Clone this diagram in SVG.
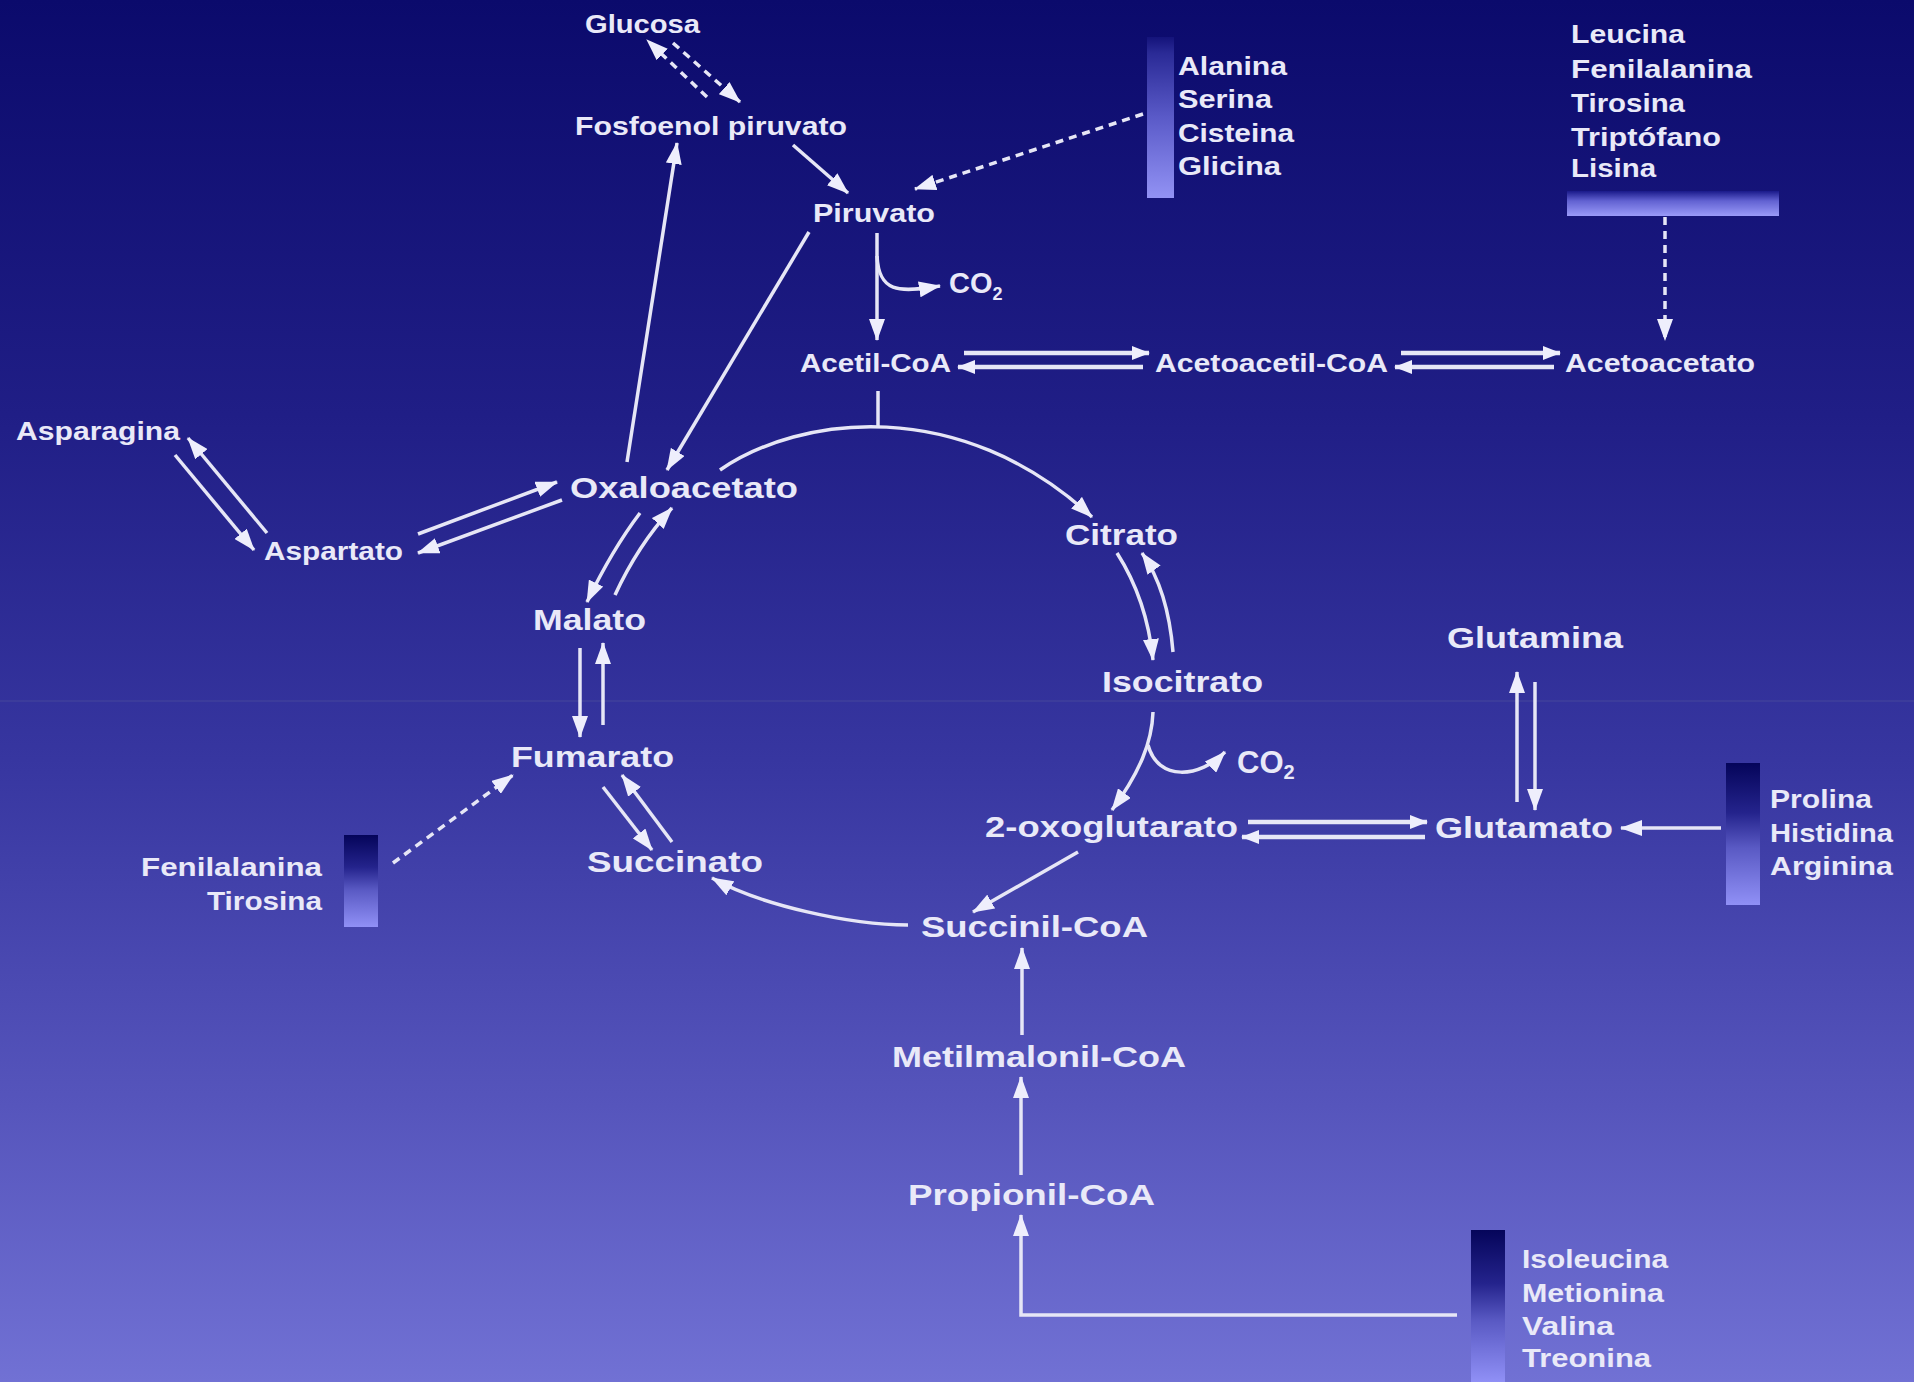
<svg xmlns="http://www.w3.org/2000/svg" width="1914" height="1382" viewBox="0 0 1914 1382">
<defs>
<linearGradient id="bg" x1="0" y1="0" x2="0" y2="1">
<stop offset="0" stop-color="#0b0a6c"/>
<stop offset="0.3" stop-color="#201e86"/>
<stop offset="0.55" stop-color="#3736a0"/>
<stop offset="0.8" stop-color="#5655bc"/>
<stop offset="1" stop-color="#7171d4"/>
</linearGradient>
<linearGradient id="barV" x1="0" y1="0" x2="0" y2="1">
<stop offset="0" stop-color="#05055a"/>
<stop offset="0.35" stop-color="#24238c"/>
<stop offset="0.6" stop-color="#5a5ac4"/>
<stop offset="1" stop-color="#9090f6"/>
</linearGradient>
<linearGradient id="barA" x1="0" y1="0" x2="0" y2="1">
<stop offset="0" stop-color="#14137a"/>
<stop offset="0.1" stop-color="#2a2a96"/>
<stop offset="0.5" stop-color="#5a5ac8"/>
<stop offset="1" stop-color="#9292f4"/>
</linearGradient>
<linearGradient id="barH" x1="0" y1="0" x2="0" y2="1">
<stop offset="0" stop-color="#1a1a8a"/>
<stop offset="0.4" stop-color="#6262d2"/>
<stop offset="1" stop-color="#9a9af8"/>
</linearGradient>
<marker id="ah" markerUnits="userSpaceOnUse" markerWidth="22" markerHeight="16" refX="21" refY="8" orient="auto">
<path d="M0,0 L22,8 L0,16 z" fill="#eeeefc"/>
</marker>
<marker id="ahs" markerUnits="userSpaceOnUse" markerWidth="18" markerHeight="14" refX="17" refY="7" orient="auto">
<path d="M0,0 L18,7 L0,14 z" fill="#eeeefc"/>
</marker>
</defs>
<style>
text{font-family:"Liberation Sans",Arial,Helvetica,sans-serif;font-weight:bold;fill:#e9e9f8}
.s{font-size:25px}
.l{font-size:30px}
.c{fill:none;stroke:#e6e6f6;stroke-width:3.5;marker-end:url(#ah)}
.t{fill:none;stroke:#e6e6f6;stroke-width:4.5;marker-end:url(#ahs)}
.n{fill:none;stroke:#e6e6f6;stroke-width:3.5}
.d{stroke-dasharray:8 6}
</style>
<rect x="0" y="0" width="1914" height="1382" fill="url(#bg)"/>
<line x1="0" y1="701" x2="1914" y2="701" stroke="#6c6c9c" stroke-width="1" opacity="0.35"/>

<g id="bars">
<rect id="bar-alanina" x="1147" y="37" width="27" height="161" fill="url(#barA)"/>
<rect id="bar-leucina" x="1567" y="191" width="212" height="25" fill="url(#barH)"/>
<rect id="bar-prolina" x="1726" y="763" width="34" height="142" fill="url(#barV)"/>
<rect id="bar-fenil" x="344" y="835" width="34" height="92" fill="url(#barV)"/>
<rect id="bar-isoleucina" x="1471" y="1230" width="34" height="152" fill="url(#barV)"/>
</g>

<g id="connectors">
<path class="c d" d="M707,97 L647,40"/>
<path class="c d" d="M673,43 L740,102"/>
<path class="c" d="M793,145 L848,193"/>
<path class="c d" d="M1143,114 L915,189"/>
<path class="c" d="M627,462 L677,143"/>
<path class="c" d="M809,232 L667,470"/>
<path class="c" d="M877,233 L877,340"/>
<path class="c" d="M877,256 C879,292 897,293 940,286"/>
<path class="c d" d="M1665,217 L1665,340"/>
<path class="t" d="M964,353 L1149,353"/>
<path class="t" d="M1143,367 L958,367"/>
<path class="t" d="M1401,353 L1560,353"/>
<path class="t" d="M1554,367 L1395,367"/>
<path class="n" d="M878,391 L878,427"/>
<path class="c" d="M720,470 C800,415 960,395 1092,517"/>
<path class="c" d="M1117,553 Q1147,600 1153,660"/>
<path class="c" d="M1173,652 Q1168,590 1142,553"/>
<path class="c" d="M1153,712 C1152,742 1140,772 1112,810"/>
<path class="c" d="M1148,745 C1158,782 1200,778 1225,752"/>
<path class="t" d="M1248,822 L1427,822"/>
<path class="t" d="M1425,837 L1242,837"/>
<path class="c" d="M1517,802 L1517,672"/>
<path class="c" d="M1535,682 L1535,810"/>
<path class="c" d="M1721,828 L1621,828"/>
<path class="c" d="M1078,852 L973,912"/>
<path class="c" d="M908,925 C850,925 760,905 712,878"/>
<path class="c" d="M1022,1035 L1022,948"/>
<path class="c" d="M1021,1175 L1021,1077"/>
<path class="c" d="M1457,1315 L1021,1315 L1021,1215"/>
<path class="c" d="M603,787 L652,850"/>
<path class="c" d="M672,842 L622,775"/>
<path class="c d" d="M393,863 L513,775"/>
<path class="c" d="M580,648 L580,737"/>
<path class="c" d="M603,725 L603,643"/>
<path class="c" d="M640,513 Q612,550 587,602"/>
<path class="c" d="M615,595 Q638,545 672,508"/>
<path class="c" d="M418,534 L557,482"/>
<path class="c" d="M562,500 L418,553"/>
<path class="c" d="M267,533 L188,438"/>
<path class="c" d="M175,455 L254,550"/>
</g>

<g id="glucosa"><text class="s" x="585" y="33" textLength="115" lengthAdjust="spacingAndGlyphs">Glucosa</text></g>
<g id="fosfoenol"><text class="s" x="575" y="135" textLength="272" lengthAdjust="spacingAndGlyphs">Fosfoenol piruvato</text></g>
<g id="piruvato"><text class="s" x="813" y="222" textLength="122" lengthAdjust="spacingAndGlyphs">Piruvato</text></g>
<g id="aa-piruvato">
<text class="s" x="1178" y="75" textLength="109" lengthAdjust="spacingAndGlyphs">Alanina</text>
<text class="s" x="1178" y="108" textLength="94" lengthAdjust="spacingAndGlyphs">Serina</text>
<text class="s" x="1178" y="142" textLength="116" lengthAdjust="spacingAndGlyphs">Cisteina</text>
<text class="s" x="1178" y="175" textLength="103" lengthAdjust="spacingAndGlyphs">Glicina</text>
</g>
<g id="aa-acetoacetato">
<text class="s" x="1571" y="43" textLength="114" lengthAdjust="spacingAndGlyphs">Leucina</text>
<text class="s" x="1571" y="78" textLength="181" lengthAdjust="spacingAndGlyphs">Fenilalanina</text>
<text class="s" x="1571" y="112" textLength="114" lengthAdjust="spacingAndGlyphs">Tirosina</text>
<text class="s" x="1571" y="146" textLength="150" lengthAdjust="spacingAndGlyphs">Triptófano</text>
<text class="s" x="1571" y="177" textLength="85" lengthAdjust="spacingAndGlyphs">Lisina</text>
</g>
<g id="co2-a"><text x="949" y="293" style="font-size:29px">CO<tspan dy="7" style="font-size:18px">2</tspan></text></g>
<g id="acetilcoa"><text class="s" x="800" y="372" textLength="151" lengthAdjust="spacingAndGlyphs">Acetil-CoA</text></g>
<g id="acetoacetilcoa"><text class="s" x="1155" y="372" textLength="233" lengthAdjust="spacingAndGlyphs">Acetoacetil-CoA</text></g>
<g id="acetoacetato"><text class="s" x="1565" y="372" textLength="190" lengthAdjust="spacingAndGlyphs">Acetoacetato</text></g>
<g id="asparagina"><text class="s" x="16" y="440" textLength="164" lengthAdjust="spacingAndGlyphs">Asparagina</text></g>
<g id="aspartato"><text class="s" x="264" y="560" textLength="139" lengthAdjust="spacingAndGlyphs">Aspartato</text></g>
<g id="oxaloacetato"><text class="l" x="570" y="498" textLength="228" lengthAdjust="spacingAndGlyphs">Oxaloacetato</text></g>
<g id="citrato"><text class="l" x="1065" y="545" textLength="113" lengthAdjust="spacingAndGlyphs">Citrato</text></g>
<g id="isocitrato"><text class="l" x="1102" y="692" textLength="161" lengthAdjust="spacingAndGlyphs">Isocitrato</text></g>
<g id="co2-b"><text x="1237" y="773" style="font-size:31px">CO<tspan dy="6" style="font-size:20px">2</tspan></text></g>
<g id="malato"><text class="l" x="533" y="630" textLength="113" lengthAdjust="spacingAndGlyphs">Malato</text></g>
<g id="fumarato"><text class="l" x="511" y="767" textLength="163" lengthAdjust="spacingAndGlyphs">Fumarato</text></g>
<g id="succinato"><text class="l" x="587" y="872" textLength="176" lengthAdjust="spacingAndGlyphs">Succinato</text></g>
<g id="aa-fumarato">
<text class="s" x="141" y="876" textLength="181" lengthAdjust="spacingAndGlyphs">Fenilalanina</text>
<text class="s" x="207" y="910" textLength="115" lengthAdjust="spacingAndGlyphs">Tirosina</text>
</g>
<g id="oxoglutarato"><text class="l" x="985" y="837" textLength="253" lengthAdjust="spacingAndGlyphs">2-oxoglutarato</text></g>
<g id="glutamina"><text class="l" x="1447" y="648" textLength="176" lengthAdjust="spacingAndGlyphs">Glutamina</text></g>
<g id="glutamato"><text class="l" x="1435" y="838" textLength="178" lengthAdjust="spacingAndGlyphs">Glutamato</text></g>
<g id="aa-glutamato">
<text class="s" x="1770" y="808" textLength="102" lengthAdjust="spacingAndGlyphs">Prolina</text>
<text class="s" x="1770" y="842" textLength="123" lengthAdjust="spacingAndGlyphs">Histidina</text>
<text class="s" x="1770" y="875" textLength="123" lengthAdjust="spacingAndGlyphs">Arginina</text>
</g>
<g id="succinilcoa"><text class="l" x="921" y="937" textLength="227" lengthAdjust="spacingAndGlyphs">Succinil-CoA</text></g>
<g id="metilmalonilcoa"><text class="l" x="892" y="1067" textLength="294" lengthAdjust="spacingAndGlyphs">Metilmalonil-CoA</text></g>
<g id="propionilcoa"><text class="l" x="908" y="1205" textLength="247" lengthAdjust="spacingAndGlyphs">Propionil-CoA</text></g>
<g id="aa-propionil">
<text class="s" x="1522" y="1268" textLength="146" lengthAdjust="spacingAndGlyphs">Isoleucina</text>
<text class="s" x="1522" y="1302" textLength="142" lengthAdjust="spacingAndGlyphs">Metionina</text>
<text class="s" x="1522" y="1335" textLength="92" lengthAdjust="spacingAndGlyphs">Valina</text>
<text class="s" x="1522" y="1367" textLength="129" lengthAdjust="spacingAndGlyphs">Treonina</text>
</g>
</svg>
